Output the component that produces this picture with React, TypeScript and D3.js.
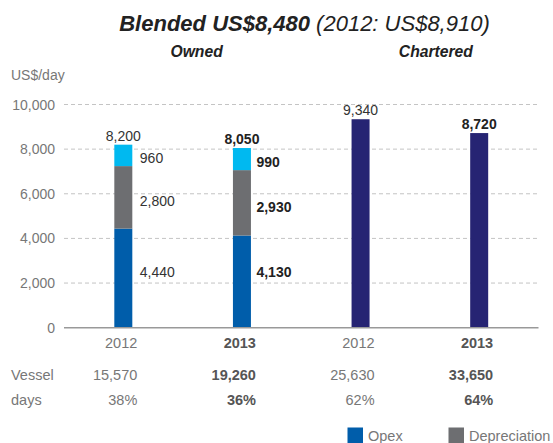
import React from 'react';
import * as d3 from 'd3';

const categories = ['2012', '2013', '2012', '2013'];
const keys = ['o2012', 'o2013', 'c2012', 'c2013'];
const groups = ['Owned', 'Chartered'];
const emphasis = [false, true, false, true];
const opex = [4440, 4130, 0, 0];
const depreciation = [2800, 2930, 0, 0];
const other = [960, 990, 0, 0];
const chartered = [0, 0, 9340, 8720];
const totals = [8200, 8050, 9340, 8720];
const vesselDays = ['15,570', '19,260', '25,630', '33,650'];
const shares = ['38%', '36%', '62%', '64%'];
const yTicks = [0, 2000, 4000, 6000, 8000, 10000];
const legendItems = ['Opex', 'Depreciation'];

const W = 553;
const H = 443;
const FONT = "'Liberation Sans', Arial, Helvetica, sans-serif";
const C_OPEX = '#005DAA';
const C_DEP = '#6D6E71';
const C_OTHER = '#00B9F0';
const C_CHART = '#262473';
const GRAY = '#777777';
const DARK = '#222222';

export default function App() {
  const x = d3.scaleBand<string>().domain(keys).range([64, 538.5]);
  const y = d3.scaleLinear().domain([0, 10000]).range([327.7, 104.5]);
  const bw = 18;
  const cx = (i: number) => (x(keys[i]) as number) + x.bandwidth() / 2;
  const fmt = d3.format(',');

  const stackData = keys.map((k, i) => ({ key: k, opex: opex[i], dep: depreciation[i], other: other[i], chart: chartered[i] }));
  const stack = d3.stack<any>().keys(['opex', 'dep', 'other', 'chart'])(stackData);
  const colors: Record<string, string> = { opex: C_OPEX, dep: C_DEP, other: C_OTHER, chart: C_CHART };

  const [x0, x1] = x.range();
  const ownedCenter = (cx(0) + cx(1)) / 2 + 14;
  const charterCenter = (cx(2) + cx(3)) / 2 + 16;

  return (
    <svg width={W} height={H} style={{ position: 'absolute', left: 0, top: 0, background: '#fff' }} fontFamily={FONT}>
      <text x={304.5} y={31} textAnchor="middle" fontSize={22} fontStyle="italic" fill={DARK}>
        <tspan fontWeight="bold">Blended US$8,480</tspan>
        <tspan> (2012: US$8,910)</tspan>
      </text>
      <text x={ownedCenter} y={57} textAnchor="middle" fontSize={15.7} fontStyle="italic" fontWeight="bold" fill={DARK}>{groups[0]}</text>
      <text x={charterCenter} y={57} textAnchor="middle" fontSize={15.7} fontStyle="italic" fontWeight="bold" fill={DARK}>{groups[1]}</text>
      <text x={11} y={80} fontSize={14} fill={GRAY}>US$/day</text>

      {yTicks.map((t) => (
        <g key={t}>
          {t > 0 && (
            <line x1={x0} x2={x1} y1={y(t)} y2={y(t)} stroke="#C4C4C4" strokeWidth={1} strokeDasharray="4,3" />
          )}
          <text x={55} y={y(t) + 5} textAnchor="end" fontSize={14} fill={GRAY}>{fmt(t)}</text>
        </g>
      ))}

      {stack.map((layer) => (
        <g key={layer.key} fill={colors[layer.key]}>
          {layer.map((d, i) => (d[1] - d[0] > 0 ? (
            <rect key={i} x={cx(i) - bw / 2} width={bw} y={y(d[1])} height={y(d[0]) - y(d[1])} />
          ) : null))}
        </g>
      ))}

      <line x1={x0} x2={x1} y1={y(0)} y2={y(0)} stroke="#999" strokeWidth={1.5} />

      {totals.map((v, i) => (
        <text key={'t' + i} x={cx(i)} y={y(v) - 4} textAnchor="middle" fontSize={14}
          fontWeight={emphasis[i] ? 'bold' : 'normal'} fill={emphasis[i] ? DARK : '#333'}>{fmt(v)}</text>
      ))}

      {[0, 1].map((i) => {
        const lx = cx(i) + bw / 2 + (emphasis[i] ? 5.5 : 7.5);
        const fw = emphasis[i] ? 'bold' : 'normal';
        const fc = emphasis[i] ? DARK : '#333';
        const base = opex[i] + depreciation[i];
        return (
          <g key={'seg' + i} fontSize={14} fontWeight={fw} fill={fc}>
            <text x={lx} y={(y(base) + y(base + other[i])) / 2 + 8}>{fmt(other[i])}</text>
            <text x={lx} y={(y(opex[i]) + y(base)) / 2 + 9}>{fmt(depreciation[i])}</text>
            <text x={lx} y={y(2500) + 5}>{fmt(opex[i])}</text>
          </g>
        );
      })}

      {categories.map((c, i) => {
        const rx = cx(i) + 14;
        const fw = emphasis[i] ? 'bold' : 'normal';
        const fc = emphasis[i] ? '#555' : GRAY;
        return (
          <g key={'b' + i} textAnchor="end" fontSize={14.5} fontWeight={fw} fill={fc}>
            <text x={rx} y={348}>{c}</text>
            <text x={rx} y={380}>{vesselDays[i]}</text>
            <text x={rx} y={405}>{shares[i]}</text>
          </g>
        );
      })}
      <text x={11} y={380} fontSize={14.5} fill={GRAY}>Vessel</text>
      <text x={11} y={405} fontSize={14.5} fill={GRAY}>days</text>

      {legendItems.map((name, i) => {
        const lx = i === 0 ? 347.5 : 448.5;
        return (
          <g key={name}>
            <rect x={lx} y={427.5} width={15.5} height={15.5} fill={i === 0 ? C_OPEX : C_DEP} />
            <text x={lx + 20.5} y={441} fontSize={14.5} fill={GRAY}>{name}</text>
          </g>
        );
      })}
    </svg>
  );
}
